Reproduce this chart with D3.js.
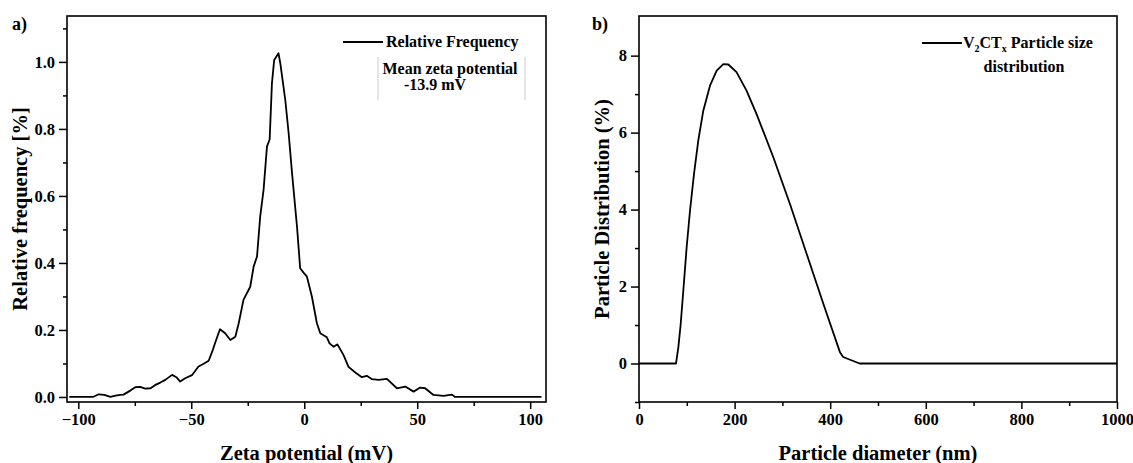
<!DOCTYPE html>
<html>
<head>
<meta charset="utf-8">
<script src="https://cdn.jsdelivr.net/npm/d3@7"></script>
<style>
  body { margin: 0; background: #fff; }
  svg { display: block; }
  text { font-family: "Liberation Serif", "Times New Roman", serif; font-weight: bold; fill: #000; }
</style>
</head>
<body>
<svg id="chart" width="1133" height="463"></svg>
<script>
// panel a) zeta potential distribution
var zetaX = [-104, -93.5, -91, -88.5, -85.8, -83.5, -81.4, -80, -77, -74.8, -72.6, -70.4, -68, -65.9, -63.7, -61.5,
  -58.5, -56.6, -54.9, -52.7, -49.7, -46.8, -44.5, -42.3, -40.5, -39, -37.3, -35, -32.7, -30.5, -29, -26.9,
  -23.9, -22.4, -20.9, -19.5, -18, -16.5, -15.3, -14.3, -13.3, -11.4, -10.6, -8.4, -6.9, -5.4, -3.2, -1.8,
  -0.3, 1.2, 3.4, 5.6, 7.1, 10, 11.2, 13, 14.7, 17.4, 19.6, 22.6, 25.5, 27.7, 30, 32.9, 36.6, 41, 44.7,
  48.4, 51.3, 53.5, 57.2, 61.6, 65.4, 66.8, 105];
var zetaY = [0, 0, 0.008, 0.006, 0.0, 0.004, 0.006, 0.007, 0.019, 0.029, 0.030, 0.025, 0.026, 0.036, 0.043, 0.051,
  0.066, 0.059, 0.046, 0.056, 0.065, 0.091, 0.099, 0.108, 0.140, 0.170, 0.202, 0.190, 0.170, 0.180, 0.220, 0.290,
  0.329, 0.389, 0.419, 0.538, 0.618, 0.747, 0.769, 0.936, 1.006, 1.026, 0.996, 0.887, 0.787, 0.668, 0.508, 0.384,
  0.371, 0.359, 0.299, 0.220, 0.190, 0.178, 0.160, 0.150, 0.157, 0.125, 0.090, 0.073, 0.059, 0.063, 0.053, 0.051, 0.054, 0.026, 0.031,
  0.016, 0.028, 0.026, 0.006, 0.003, 0.007, 0.0, 0];
var zetaTicks = [-100, -50, 0, 50, 100];
var zetaMinor = [-75, -25, 25, 75];
var freqTicks = [0, 0.2, 0.4, 0.6, 0.8, 1.0];
var freqMinor = [0.1, 0.3, 0.5, 0.7, 0.9, 1.1];

// panel b) particle size distribution
var sizeX = [0, 77.4, 82.3, 87.2, 92.7, 99.7, 106.7, 115, 124, 134.5, 148.5, 162.5, 176.4, 186.9, 204, 225, 246,
  281, 316, 351, 386, 420.5, 427, 461.5, 1000];
var sizeY = [0, 0, 0.42, 1.02, 1.89, 3.02, 3.97, 4.92, 5.79, 6.57, 7.22, 7.61, 7.78, 7.77, 7.57, 7.09, 6.48,
  5.36, 4.14, 2.84, 1.54, 0.29, 0.17, 0, 0];
var sizeTicks = [0, 200, 400, 600, 800, 1000];
var sizeMinor = [100, 300, 500, 700, 900];
var distTicks = [0, 2, 4, 6, 8];
var distMinor = [-1, 1, 3, 5, 7];

var svg = d3.select("#chart");

function styleTicks(a) {
  a.select(".domain").remove();
  a.selectAll("line").attr("stroke-width", 1.5);
  a.selectAll("text").style("font-family", "Liberation Serif").style("font-weight", "bold").style("font-size", "16.5px");
}

function panel(opt) {
  var x = d3.scaleLinear().domain(opt.xDomain).range([opt.left, opt.right]);
  var y = d3.scaleLinear().domain(opt.yDomain).range([402, 16]);
  var g = svg.append("g");

  // minor ticks
  g.append("g").attr("transform", "translate(0,402)")
    .call(d3.axisBottom(x).tickValues(opt.xMinor).tickFormat("").tickSize(4).tickSizeOuter(0))
    .call(styleTicks);
  g.append("g").attr("transform", "translate(" + opt.left + ",0)")
    .call(d3.axisLeft(y).tickValues(opt.yMinor).tickFormat("").tickSize(4).tickSizeOuter(0))
    .call(styleTicks);

  // major ticks
  g.append("g").attr("transform", "translate(0,402)")
    .call(d3.axisBottom(x).tickValues(opt.xTicks).tickFormat(opt.xFmt).tickSize(7).tickPadding(4).tickSizeOuter(0))
    .call(styleTicks);
  g.append("g").attr("transform", "translate(" + opt.left + ",0)")
    .call(d3.axisLeft(y).tickValues(opt.yTicks).tickFormat(opt.yFmt).tickSize(8).tickPadding(4).tickSizeOuter(0))
    .call(styleTicks);

  // frame
  g.append("rect").attr("x", opt.left).attr("y", 16)
    .attr("width", opt.right - opt.left).attr("height", 402 - 16)
    .attr("fill", "none").attr("stroke", "#000").attr("stroke-width", 1.6);

  // data line
  var pts = opt.xs.map(function (v, i) { return [v, opt.ys[i]]; });
  g.append("path").datum(pts)
    .attr("fill", "none").attr("stroke", "#000").attr("stroke-width", 1.8)
    .attr("stroke-linejoin", "round")
    .attr("d", d3.line().x(function (d) { return x(d[0]); }).y(function (d) { return y(d[1]); }));

  // axis titles
  g.append("text").attr("x", (opt.left + opt.right) / 2).attr("y", 460)
    .attr("text-anchor", "middle").style("font-size", "20.5px").text(opt.xTitle);
  g.append("text").attr("transform", "translate(" + opt.yTitleX + ",209) rotate(-90)")
    .attr("text-anchor", "middle").style("font-size", "20.5px").text(opt.yTitle);

  // panel letter
  g.append("text").attr("x", opt.letterX).attr("y", 30).style("font-size", "18px").text(opt.letter);
  return g;
}

var ga = panel({
  left: 67, right: 546, xDomain: [-105, 107], yDomain: [-0.015, 1.137],
  xTicks: zetaTicks, xMinor: zetaMinor, yTicks: freqTicks, yMinor: freqMinor,
  xFmt: d3.format("d"), yFmt: d3.format(".1f"),
  xs: zetaX, ys: zetaY,
  xTitle: "Zeta potential (mV)", yTitle: "Relative frequency [%]", yTitleX: 27,
  letter: "a)", letterX: 12
});

var gb = panel({
  left: 639, right: 1117, xDomain: [0, 1000], yDomain: [-1, 9.03],
  xTicks: sizeTicks, xMinor: sizeMinor, yTicks: distTicks, yMinor: distMinor,
  xFmt: d3.format("d"), yFmt: d3.format("d"),
  xs: sizeX, ys: sizeY,
  xTitle: "Particle diameter (nm)", yTitle: "Particle Distribution (%)", yTitleX: 609,
  letter: "b)", letterX: 592
});

// legend a)
ga.append("line").attr("x1", 343).attr("x2", 383).attr("y1", 42).attr("y2", 42)
  .attr("stroke", "#000").attr("stroke-width", 1.8);
ga.append("text").attr("x", 386).attr("y", 47).style("font-size", "16px").text("Relative Frequency");
ga.append("line").attr("x1", 378).attr("x2", 378).attr("y1", 57).attr("y2", 100).attr("stroke", "#ccc").attr("stroke-width", 1);
ga.append("line").attr("x1", 525).attr("x2", 525).attr("y1", 57).attr("y2", 100).attr("stroke", "#ccc").attr("stroke-width", 1);
ga.append("text").attr("x", 450).attr("y", 74).attr("text-anchor", "middle").style("font-size", "16px").text("Mean zeta potential");
ga.append("text").attr("x", 435).attr("y", 90).attr("text-anchor", "middle").style("font-size", "16px").text("-13.9 mV");

// legend b)
gb.append("line").attr("x1", 922).attr("x2", 962).attr("y1", 43).attr("y2", 43)
  .attr("stroke", "#000").attr("stroke-width", 1.8);
var lt = gb.append("text").attr("x", 963).attr("y", 48).style("font-size", "16px");
lt.append("tspan").text("V");
lt.append("tspan").attr("dy", 4).style("font-size", "10px").text("2");
lt.append("tspan").attr("dy", -4).text("CT");
lt.append("tspan").attr("dy", 4).style("font-size", "10px").text("x");
lt.append("tspan").attr("dy", -4).text(" Particle size");
gb.append("text").attr("x", 1024).attr("y", 72).attr("text-anchor", "middle").style("font-size", "16px").text("distribution");
</script>
</body>
</html>
